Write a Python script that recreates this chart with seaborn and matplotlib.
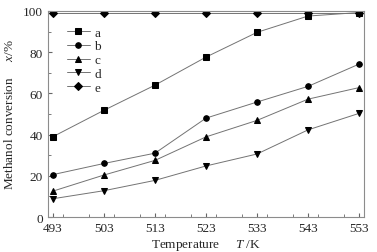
import numpy as np
import pandas as pd
import matplotlib
matplotlib.use("Agg")
from matplotlib import pyplot as plt
from matplotlib.ticker import MultipleLocator
import seaborn as sns

temps = [493, 503, 513, 523, 533, 543, 553]
series_names = ["a", "b", "c", "d", "e"]
conv_a = [39.0, 51.8, 64.0, 77.6, 89.6, 97.5, 99.2]
conv_b = [20.6, 26.0, 31.0, 48.0, 55.8, 63.4, 74.2]
conv_c = [12.6, 20.4, 27.5, 38.9, 46.9, 57.2, 62.8]
conv_d = [8.9, 12.8, 17.8, 24.8, 30.6, 42.3, 50.3]
conv_e = [99.0, 99.0, 99.0, 99.0, 99.0, 99.0, 99.0]
markers = ["s", "o", "^", "v", "D"]

df = pd.DataFrame({
    "T": temps * 5,
    "conv": conv_a + conv_b + conv_c + conv_d + conv_e,
    "series": [s for s in series_names for _ in temps],
})

sns.set_style("ticks")
plt.rcParams["font.family"] = ["Liberation Serif", "DejaVu Serif"]
plt.rcParams["mathtext.fontset"] = "custom"
plt.rcParams["mathtext.it"] = "Liberation Serif:italic"
plt.rcParams["mathtext.rm"] = "Liberation Serif"

fig = plt.figure(figsize=(3.77, 2.53), dpi=100)
ax = fig.add_axes([0.127, 0.138, 0.839, 0.815])

for name, mk in zip(series_names, markers):
    sns.lineplot(data=df[df["series"] == name], x="T", y="conv", ax=ax,
                 color="0.45", lw=0.7, marker=mk, markersize=4 if mk != "D" else 3.6,
                 markerfacecolor="k", markeredgecolor="k", label=name)

ax.set_xlim(492, 554)
ax.set_ylim(0, 100)
ax.set_xticks(temps)
ax.set_yticks(range(0, 101, 20))
ax.xaxis.set_minor_locator(MultipleLocator(5))
ax.yaxis.set_minor_locator(MultipleLocator(10))
ax.tick_params(which="both", direction="in", labelsize=9.5, color="0.4")
ax.tick_params(which="major", length=3)
ax.tick_params(which="minor", length=2)
for sp in ax.spines.values():
    sp.set_color("0.55")
    sp.set_linewidth(0.8)

ax.set_xlabel(r"Temperature     $T$ /K", fontsize=9.5, labelpad=2)
ax.set_ylabel(r"Methanol conversion     $x$/%", fontsize=9.5, labelpad=5)

ax.legend(loc="upper left", bbox_to_anchor=(0.03, 0.97), frameon=False,
          fontsize=9.5, handlelength=1.8, handletextpad=0.3, labelspacing=0.12,
          borderpad=0.2)

fig.savefig("out.png", dpi=100)
